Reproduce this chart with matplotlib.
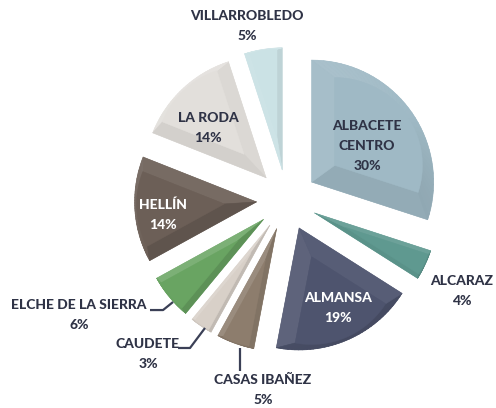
import numpy as np
import matplotlib.pyplot as plt
from matplotlib.collections import PolyCollection
from matplotlib.colors import to_rgb

plt.rcParams['font.family'] = ['Lato', 'DejaVu Sans']

# share of each zone
zones = ['ALBACETE\nCENTRO', 'ALCARAZ', 'ALMANSA', 'CASAS IBAÑEZ', 'CAUDETE',
         'ELCHE DE LA SIERRA', 'HELLÍN', 'LA RODA', 'VILLARROBLEDO']
shares = [30, 4, 19, 5, 3, 6, 14, 14, 5]

colors = ['#9fb9c5', '#5f9990', '#4e546e', '#8d7d6d', '#d8d0c8',
          '#69a462', '#6c5f57', '#e2dfdb', '#cbe2e5']
text_colors = ['#2f3346', '#2f3346', 'white', '#2f3346', '#2f3346',
               '#2f3346', 'white', '#2f3346', '#2f3346']
# label anchor, in units of pie radius (pie centre at 0,0)
label_xy = [(0.656, 0.443), (1.434, -0.746), (0.418, -0.885), (-0.197, -1.557),
            (-1.139, -1.262), (-1.705, -0.943), (-1.016, -0.123), (-0.648, 0.590),
            (-0.328, 1.426)]
leaders = {
    'ELCHE DE LA SIERRA': [(-1.123, -0.902), (-1.016, -0.902), (-0.934, -0.836)],
    'CAUDETE': [(-0.893, -1.213), (-0.795, -1.213), (-0.672, -1.049)],
    'CASAS IBAÑEZ': [(-0.385, -1.213), (-0.385, -1.402)],
}

fig = plt.figure(figsize=(4.96, 4.08), dpi=100)
ax = fig.add_axes([0, 0, 1, 1])

wedges, _ = ax.pie(shares, colors=colors, startangle=90, counterclock=False,
                   explode=[0.25] * len(shares), radius=1.0,
                   wedgeprops=dict(linewidth=0))

light = np.array([-0.55, 0.83])


def shade(c, k):
    c = np.array(to_rgb(c))
    if k > 0:
        return tuple(c + (1 - c) * k)
    return tuple(c * (1 + k))


# bevel facets on each wedge
for w, c in zip(wedges, colors):
    cx, cy = w.center
    t = np.radians(np.linspace(w.theta1, w.theta2, 40))
    outer = np.vstack([[cx, cy], np.column_stack([cx + w.r * np.cos(t), cy + w.r * np.sin(t)])])
    cen = outer.mean(axis=0)
    inner = cen + (outer - cen) * 0.72
    polys, fcs = [], []
    n = len(outer)
    for i in range(n):
        j = (i + 1) % n
        e = outer[j] - outer[i]
        nrm = np.array([e[1], -e[0]])
        nrm = nrm / (np.linalg.norm(nrm) + 1e-12)
        k = float(np.dot(nrm, light))
        polys.append([outer[i], outer[j], inner[j], inner[i]])
        fcs.append(shade(c, 0.13 * k if k > 0 else 0.12 * k))
    ax.add_collection(PolyCollection(polys, facecolors=fcs, edgecolors=fcs, linewidths=0.4))
    ax.add_patch(plt.Polygon(inner, closed=True, facecolor=c, edgecolor=c, linewidth=0.3))

for name, p, (x, y), tc in zip(zones, shares, label_xy, text_colors):
    ax.text(x, y, f'{name}\n{p}%', ha='center', va='center', color=tc,
            fontsize=10, fontweight='black', linespacing=1.8)

for pts in leaders.values():
    xs, ys = zip(*pts)
    ax.plot(xs, ys, color='#3b4056', lw=1.6, solid_capstyle='butt')

ax.set_xlim(-287 / 122, (496 - 287) / 122)
ax.set_ylim(-208 / 122, 200 / 122)
ax.set_aspect('auto')
ax.axis('off')

fig.savefig('out.png', dpi=100, facecolor='white')
